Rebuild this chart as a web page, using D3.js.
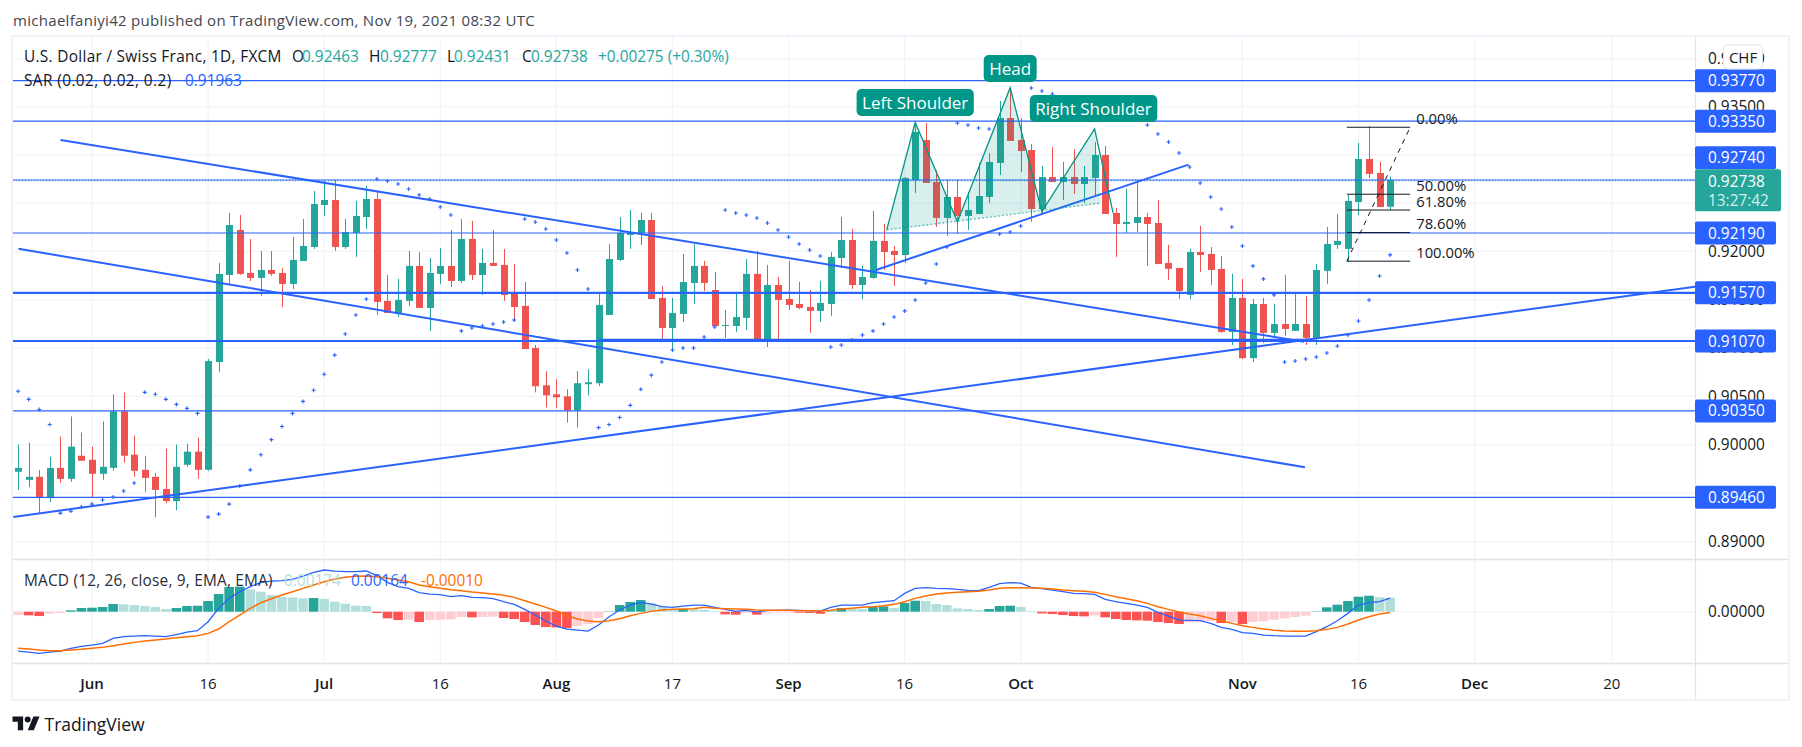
<!DOCTYPE html>
<html><head><meta charset="utf-8">
<script src="https://cdn.jsdelivr.net/npm/d3@7"></script>
<style>html,body{margin:0;padding:0;background:#fff;overflow:hidden}svg{display:block}text{font-family:"Open Sans","Noto Sans",sans-serif}</style>
</head><body><svg id="c" width="1802" height="747"></svg>
<script>
const barOpen=[.89723,.89640,.89671,.89452,.89763,.89650,.89888,.89847,.89702,.89763,.90345,.89899,.89743,.89671,.89546,.89421,.89795,.89930,.89743,.90853,.91755,.92222,.91776,.91724,.91807,.91776,.91662,.91900,.92045,.92481,.92533,.92045,.92191,.92356,.92543,.91486,.91351,.91486,.91849,.91413,.91766,.91849,.91693,.92129,.91755,.91880,.91859,.91558,.91434,.90998,.90614,.90521,.90500,.90355,.90625,.90635,.91340,.91911,.92170,.92191,.92325,.91517,.91205,.91351,.91672,.91849,.91599,.91226,.91226,.91309,.91766,.91060,.91651,.91506,.91454,.91423,.91382,.91454,.91931,.92118,.91651,.91724,.92108,.92004,.91962,.92740,.93155,.92719,.92346,.92564,.92367,.92388,.92564,.92917,.93383,.93155,.93051,.92439,.92771,.92719,.92771,.92698,.92761,.93000,.92398,.92284,.92294,.92356,.92294,.91880,.91828,.91548,.91993,.91973,.91818,.91164,.91517,.90894,.91454,.91154,.91247,.91175,.91247,.91102,.91797,.92066,.92025,.92512,.92958,.92813,.92463];
const barClose=[.89763,.89671,.89452,.89763,.89650,.89982,.89836,.89702,.89774,.90345,.89888,.89733,.89660,.89536,.89421,.89774,.89930,.89743,.90864,.91766,.92273,.91766,.91724,.91807,.91766,.91662,.91911,.92056,.92491,.92533,.92045,.92201,.92367,.92543,.91475,.91361,.91496,.91849,.91413,.91776,.91849,.91693,.92129,.91755,.91880,.91849,.91548,.91423,.90987,.90604,.90510,.90490,.90355,.90635,.90645,.91444,.91921,.92191,.92201,.92325,.91506,.91205,.91361,.91682,.91849,.91672,.91226,.91236,.91319,.91766,.91081,.91651,.91496,.91444,.91413,.91382,.91465,.91942,.92118,.91651,.91734,.92108,.91993,.91962,.92761,.93238,.92709,.92346,.92564,.92367,.92429,.92574,.92927,.93383,.93145,.93041,.92439,.92771,.92719,.92771,.92698,.92771,.93000,.92388,.92284,.92305,.92356,.92284,.91869,.91818,.91589,.91993,.91962,.91807,.91164,.91517,.90894,.91454,.91154,.91247,.91195,.91247,.91102,.91807,.92076,.92108,.92523,.92958,.92803,.92460,.92738];
const barHigh=[.90003,.90023,.89743,.89878,.90086,.90293,.90127,.89982,.90241,.90521,.90541,.90096,.89888,.89712,.89961,.90003,.90013,.90075,.90884,.91880,.92398,.92377,.92129,.92004,.92004,.91828,.92149,.92336,.92626,.92740,.92740,.92336,.92523,.92678,.92616,.91755,.91714,.92004,.91993,.91931,.92035,.92222,.92336,.92315,.92025,.92222,.92025,.91869,.91682,.91029,.90760,.90677,.90573,.90760,.90781,.91568,.92076,.92356,.92429,.92398,.92398,.91641,.91517,.91973,.92076,.91900,.91786,.91392,.91568,.91921,.92004,.91859,.91734,.91900,.91682,.91599,.91693,.91993,.92356,.92232,.91849,.92419,.92284,.92056,.92771,.93341,.93331,.92844,.92740,.92740,.92616,.92917,.93020,.93560,.93694,.93383,.93114,.92886,.93082,.92927,.93062,.92886,.93134,.93093,.92450,.92647,.92740,.92398,.92533,.92066,.91828,.92025,.92263,.92045,.91952,.91766,.91714,.91506,.91517,.91454,.91755,.91579,.91537,.91869,.92253,.92388,.92585,.93124,.93300,.92927,.92777];
const barLow=[.89536,.89567,.89297,.89411,.89608,.89619,.89836,.89463,.89640,.89733,.89815,.89671,.89515,.89256,.89400,.89328,.89774,.89650,.89733,.90749,.91651,.91755,.91693,.91537,.91745,.91423,.91610,.91900,.92025,.92367,.92004,.92025,.91942,.92232,.91340,.91361,.91319,.91434,.91413,.91175,.91662,.91630,.91672,.91703,.91548,.91849,.91486,.91278,.90987,.90541,.90386,.90376,.90230,.90178,.90510,.90604,.91340,.91900,.92025,.92066,.91506,.91092,.90998,.91267,.91454,.91589,.91226,.91102,.91164,.91185,.91060,.91008,.91060,.91392,.91402,.91154,.91267,.91330,.91828,.91610,.91506,.91714,.91807,.91641,.91880,.92605,.92709,.92253,.92160,.92180,.92222,.92388,.92502,.92792,.93145,.92823,.92305,.92388,.92719,.92533,.92595,.92502,.92585,.92388,.91942,.92191,.92201,.91849,.91869,.91703,.91506,.91506,.91786,.91651,.91154,.91029,.90884,.90853,.91050,.91112,.91122,.91175,.91029,.91029,.91662,.92025,.91890,.92377,.92761,.92460,.92431];
const sar=[.90552,.90469,.90365,.90210,.89297,.89318,.89359,.89390,.89432,.89463,.89525,.89608,.90541,.90521,.90469,.90417,.90376,.90324,.89256,.89287,.89390,.89577,.89743,.89899,.90054,.90189,.90324,.90448,.90562,.90728,.90925,.91143,.91340,.91506,.92750,.92729,.92698,.92647,.92585,.92543,.92460,.92377,.91175,.91205,.91226,.91247,.91267,.91288,.92336,.92305,.92232,.92118,.91983,.91807,.91610,.90178,.90210,.90282,.90407,.90573,.90718,.90853,.90977,.90998,.90998,.91112,.91216,.92429,.92398,.92377,.92346,.92294,.92222,.92149,.92076,.92014,.91952,.91008,.91029,.91081,.91133,.91175,.91247,.91319,.91382,.91496,.91672,.91869,.92045,.93331,.93310,.93279,.93269,.92180,.92201,.92263,.93694,.93663,.93632,null,null,null,null,null,null,null,null,.93310,.93217,.93134,.93020,.92875,.92709,.92564,.92439,.92253,.92056,.91849,.91714,.91548,.90853,.90864,.90884,.90905,.90946,.91019,.91133,.91278,.91496,.91745,.91963];
// MACD series, in units of 0.00001
const macdLine=[-472,-484,-500,-484,-472,-440,-416,-400,-380,-320,-300,-292,-288,-292,-300,-276,-244,-228,-120,40,160,240,300,352,368,372,388,428,472,500,488,480,480,488,432,352,300,280,228,212,204,180,192,172,168,156,120,88,28,-40,-112,-172,-208,-220,-232,-160,-60,20,80,112,92,60,52,68,80,80,52,28,4,16,-4,16,16,20,16,12,8,52,80,80,80,108,120,132,220,280,288,280,276,268,256,252,292,336,348,344,292,276,260,240,220,216,208,148,120,100,80,52,-8,-52,-100,-104,-108,-140,-188,-212,-252,-260,-280,-288,-292,-292,-292,-240,-180,-108,-20,80,108,120,164];
const signalLine=[-440,-448,-460,-468,-468,-460,-452,-440,-428,-408,-388,-368,-352,-340,-328,-312,-300,-288,-260,-208,-120,-40,40,108,156,200,240,280,320,360,392,412,424,428,420,400,380,360,320,300,280,264,252,236,224,212,196,172,132,92,52,8,-48,-88,-112,-120,-108,-84,-48,-20,4,20,28,32,36,52,40,36,32,28,20,16,16,16,12,12,8,16,32,40,52,60,72,88,120,160,188,212,224,232,240,244,260,280,288,288,284,280,272,260,252,244,232,208,180,156,132,100,60,28,-4,-28,-48,-80,-108,-140,-168,-188,-208,-224,-232,-236,-236,-228,-212,-188,-148,-100,-60,-28,-10];
const macdHist=[-40,-44,-52,-24,-16,16,44,48,56,92,88,80,68,56,32,44,68,72,128,212,296,300,268,240,200,176,172,160,164,152,120,96,72,68,-16,-80,-100,-96,-124,-100,-96,-92,-64,-68,-64,-60,-76,-88,-124,-160,-184,-188,-196,-172,-148,-76,4,80,116,140,100,60,28,32,28,24,8,-32,-36,-12,-36,-20,-12,-8,-12,-16,-24,4,44,36,32,60,64,44,104,132,128,92,80,40,32,20,32,68,72,56,8,-20,-28,-40,-52,-56,-44,-68,-88,-100,-104,-108,-124,-136,-148,-128,-120,-112,-136,-124,-148,-124,-116,-96,-80,-64,-48,4,52,84,128,180,192,174,168];
const levelsThin=[.9377,.9335,.9274,.9219,.9035,.8946];
const levelsThick=[.9157,.9107];
const levelLabels=[.9377,.9335,.9274,.9219,.9157,.9107,.9035,.8946];
const priceTicks=[.94,.935,.93,.925,.92,.915,.91,.905,.90,.895,.89];
const dateTicks=[[7,"Jun",1],[18,"16",0],[29,"Jul",1],[40,"16",0],[51,"Aug",1],[62,"17",0],[73,"Sep",1],[84,"16",0],[95,"Oct",1],[116,"Nov",1],[127,"16",0],[138,"Dec",1],[151,"20",0]];
const trendLines=[[4.02,.93155,121.84,.91063],[0.03,.92027,121.93,.89769],[-0.45,.89258,158.9,.91634],[81.29,.91807,110.9,.92899],[55,.91083,122.5,.91083]];
const patternPts=[[82.3,.92222],[85,.93339],[89,.92307],[94,.93698],[97,.92412],[102,.93269],[103.75,.92398]];
const patternBase=[[82.3,.92222],[102.6,.92499]];
const patternLabels=[["Left Shoulder",85,.93544],["Head",94,.93897],["Right Shoulder",101.9,.93482]];
const fibAnchors=[[125.9,.91898],[131.9,.93287]];
const fibLevels=[[0,"0.00%"],[.5,"50.00%"],[.618,"61.80%"],[.786,"78.60%"],[1,"100.00%"]];
const lastPrice=.92738;

const UP="#26a69a",DN="#ef5350",BLUE="#2962ff",INK="#131722",TEAL="#009688";
const PL=13,PR=1695,PT=37,PB=559,MT=560,MB=663;
const svg=d3.select("#c");
const x=d3.scaleLinear().domain([0,130]).range([18.1,18.1+130*10.554]);
const y=d3.scaleLinear().domain([.9377,.9107,.8946]).range([80.7,341,497.3]);
const ym=d3.scaleLinear().domain([-500,500]).range([611.7+41.67,611.7-41.67]);
const idx=d3.range(barOpen.length);
svg.append("defs").append("clipPath").attr("id","pane").append("rect").attr("x",PL).attr("y",PT).attr("width",PR-PL).attr("height",PB-PT);
svg.select("defs").append("clipPath").attr("id","mpane").append("rect").attr("x",PL).attr("y",MT).attr("width",PR-PL).attr("height",MB-MT);

function txt(g,s,xx,yy,o={}){return g.append("text").attr("x",xx).attr("y",yy).attr("dominant-baseline","central").attr("text-anchor",o.a||"start").attr("fill",o.c||INK).attr("font-size",o.s||15.4).attr("font-weight",o.w||400).attr("letter-spacing",o.ls||0).text(s);}

// frame, grid
const grid=svg.append("g").attr("stroke","#f0f3fa").attr("stroke-width",1.2);
priceTicks.forEach(p=>grid.append("line").attr("x1",PL).attr("x2",PR).attr("y1",y(p)).attr("y2",y(p)));
dateTicks.forEach(d=>grid.append("line").attr("x1",x(d[0])).attr("x2",x(d[0])).attr("y1",PT).attr("y2",MB));
grid.append("line").attr("x1",PL).attr("x2",PR).attr("y1",ym(0)).attr("y2",ym(0));
svg.append("rect").attr("x",12).attr("y",36).attr("width",1777).attr("height",664).attr("fill","none").attr("stroke","#f0f3fa").attr("stroke-width",2);
const sep=svg.append("g").attr("stroke","#e0e3eb");
sep.append("line").attr("x1",PL).attr("x2",1789).attr("y1",559.5).attr("y2",559.5).attr("stroke-width",1.6);
sep.append("line").attr("x1",PL).attr("x2",1789).attr("y1",663.5).attr("y2",663.5).attr("stroke-width",1.6);
sep.append("line").attr("x1",PR+.5).attr("x2",PR+.5).attr("y1",37).attr("y2",699).attr("stroke-width",1.2);

// candles
const cs=svg.append("g").attr("clip-path","url(#pane)");
idx.forEach(i=>{const col=barClose[i]>=barOpen[i]?UP:DN,cx=Math.round(x(i))+.5;
 cs.append("line").attr("x1",cx).attr("x2",cx).attr("y1",y(barHigh[i])).attr("y2",y(barLow[i])).attr("stroke",col).attr("stroke-width",1);
 const t=y(Math.max(barOpen[i],barClose[i])),b=y(Math.min(barOpen[i],barClose[i]));
 cs.append("rect").attr("x",cx-3.5).attr("width",7).attr("y",t).attr("height",Math.max(b-t,1)).attr("fill",col);
});
// horizontal levels and trendlines
const dr=svg.append("g").attr("clip-path","url(#pane)");
dr.append("line").attr("x1",PL).attr("x2",PR).attr("y1",y(lastPrice)+.6).attr("y2",y(lastPrice)+.6).attr("stroke",UP).attr("stroke-width",1).attr("stroke-dasharray","1 2");
levelsThin.forEach(p=>dr.append("line").attr("x1",PL).attr("x2",PR).attr("y1",y(p)).attr("y2",y(p)).attr("stroke",BLUE).attr("stroke-width",1.2));
levelsThick.forEach(p=>dr.append("line").attr("x1",PL).attr("x2",PR).attr("y1",y(p)).attr("y2",y(p)).attr("stroke",BLUE).attr("stroke-width",2.2));
trendLines.forEach(t=>dr.append("line").attr("x1",x(t[0])).attr("y1",y(t[1])).attr("x2",x(t[2])).attr("y2",y(t[3])).attr("stroke",BLUE).attr("stroke-width",2));
// SAR
const crossSize=2;
const sg=svg.append("g").attr("clip-path","url(#pane)").attr("stroke",BLUE).attr("stroke-width",1.1);
idx.forEach(i=>{if(sar[i]==null)return;const a=x(i),b=y(sar[i]);
 sg.append("path").attr("d",`M${a-crossSize} ${b}H${a+crossSize}M${a} ${b-crossSize}V${b+crossSize}`);});
// head & shoulders
const pth=d3.line().x(d=>x(d[0])).y(d=>y(d[1]));
const fillPts=patternPts.slice(0,6).concat([patternBase[1]]);
dr.append("path").attr("d",pth(fillPts)+"Z").attr("fill",TEAL).attr("fill-opacity",.15).attr("stroke","none");
dr.append("path").attr("d",pth(patternPts)).attr("fill","none").attr("stroke",TEAL).attr("stroke-width",1.3);
dr.append("path").attr("d",pth(patternBase)).attr("fill","none").attr("stroke",TEAL).attr("stroke-opacity",.6).attr("stroke-width",1.3).attr("stroke-dasharray","2 2");
// fib
const fa=fibAnchors,fibY=l=>fa[1][1]+(fa[0][1]-fa[1][1])*l;
dr.append("line").attr("x1",x(fa[0][0])).attr("y1",y(fa[0][1])).attr("x2",x(fa[1][0])).attr("y2",y(fa[1][1])).attr("stroke","#131722").attr("stroke-width",1).attr("stroke-dasharray","5 5");
fibLevels.forEach(([l,s])=>{const yy=y(fibY(l));
 dr.append("line").attr("x1",x(fa[0][0])).attr("x2",x(fa[1][0])).attr("y1",yy).attr("y2",yy).attr("stroke","#131722").attr("stroke-width",1);
 txt(svg,s,x(fa[1][0])+6,yy-9.5,{s:14.8,c:"#131722"});});
// labels
patternLabels.forEach(([s,k,p])=>{const g=svg.append("g");
 const t=txt(g,s,x(k),y(p),{a:"middle",s:17,c:"#fff"});
 const w=t.node().getComputedTextLength()+11;
 g.insert("rect","text").attr("x",x(k)-w/2).attr("y",y(p)-13.5).attr("width",w).attr("height",27).attr("rx",5).attr("fill",TEAL);});

// MACD
const mg=svg.append("g").attr("clip-path","url(#mpane)");
idx.forEach(i=>{const h=macdHist[i],p=i?macdHist[i-1]:h;
 const col=h>=0?(h>p?UP:"#b2dfdb"):(h<p?"#ff5252":"#ffcdd2");
 mg.append("rect").attr("x",x(i)-4.8).attr("width",9.6).attr("y",Math.min(ym(h),ym(0))).attr("height",Math.abs(ym(h)-ym(0))).attr("fill",col);});
const ml=d3.line().x((d,i)=>x(i)).y(d=>ym(d));
mg.append("path").attr("d",ml(macdLine)).attr("fill","none").attr("stroke",BLUE).attr("stroke-width",1.3);
mg.append("path").attr("d",ml(signalLine)).attr("fill","none").attr("stroke","#ff6d00").attr("stroke-width",1.5);

// price axis
priceTicks.forEach(p=>txt(svg,p.toFixed(5),1708,y(p)));
txt(svg,"0.00000",1708,ym(0));
levelLabels.forEach(p=>{let c=y(p);const top=y(lastPrice)-11;
 if(c<top+42&&c+11.5>top)c=top-11.5;
 svg.append("rect").attr("x",PR).attr("y",c-11.5).attr("width",81).attr("height",23).attr("rx",2).attr("fill",BLUE);
 txt(svg,p.toFixed(5),1708,c,{c:"#fff"});});
{const top=y(lastPrice)-11;
 svg.append("rect").attr("x",PR).attr("y",top).attr("width",86).attr("height",42).attr("rx",2).attr("fill",UP);
 txt(svg,lastPrice.toFixed(5),1708,top+12,{c:"#fff"});
 txt(svg,"13:27:42",1708,top+31,{c:"#d4eeeb"});}
svg.append("rect").attr("x",1723.5).attr("y",45).attr("width",39).attr("height",24).attr("rx",4).attr("fill","#fff").attr("stroke","#e0e3eb");
txt(svg,"CHF",1743,57,{a:"middle",s:15});

// date axis
dateTicks.forEach(d=>txt(svg,d[1],x(d[0]),682.7,{a:"middle",s:15,w:d[2]?600:400}));

// legends
txt(svg,"michaelfaniyi42 published on TradingView.com, Nov 19, 2021 08:32 UTC",13,20,{s:15,ls:.3,c:"#434651"});
const leg=svg.append("g");
txt(leg,"U.S. Dollar / Swiss Franc, 1D, FXCM",24,56.7,{ls:.3});
[["O",292,"0.92463",302],["H",369,"0.92777",380],["L",447,"0.92431",454],["C",522,"0.92738",531]].forEach(r=>{txt(leg,r[0],r[1],56.7);txt(leg,r[2],r[3],56.7,{c:UP});});
txt(leg,"+0.00275 (+0.30%)",598,56.7,{c:UP});
txt(leg,"SAR (0.02, 0.02, 0.2)",24,80,{ls:.4});
txt(leg,"0.91963",185,80,{c:BLUE});
txt(leg,"MACD (12, 26, close, 9, EMA, EMA)",24,580.7,{ls:.2,c:"#2a2e39"});
txt(leg,"0.00174",284,580.7,{c:"#b2dfdb"});
txt(leg,"0.00164",351,580.7,{c:BLUE});
txt(leg,"-0.00010",421,580.7,{c:"#ff6d00"});

// footer logo
const lg=svg.append("g").attr("transform","translate(12.5,713.5) scale(.76)").attr("fill","#131722");
lg.append("path").attr("d","M14 22H7V11H0V4h14v18zM28 22h-8l7.5-18h8L28 22z");
lg.append("circle").attr("cx",20).attr("cy",8).attr("r",4);
txt(svg,"TradingView",44.5,724,{s:17.5,c:"#131722"});
</script></body></html>
